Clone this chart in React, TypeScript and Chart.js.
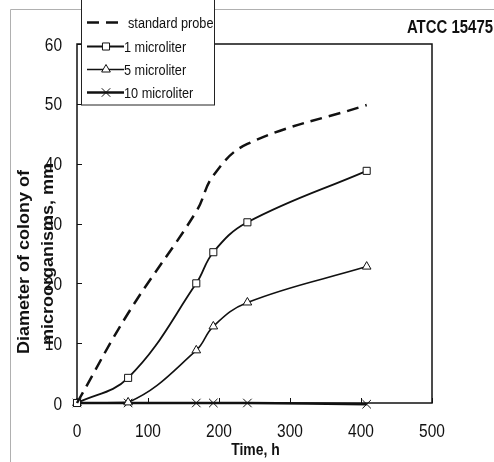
import React, { useEffect, useRef } from "react";
import { Chart, registerables } from "chart.js";

Chart.register(...registerables);

const times = [0, 72, 168, 192, 240, 408];
const standardProbe = [0, 15, 32, 38, 43.3, 49.8];
const oneMicroliter = [0, 4.2, 20, 25.2, 30.2, 38.8];
const fiveMicroliter = [0, 0.1, 8.8, 12.8, 16.8, 22.8];
const tenMicroliter = [0, 0, 0, 0, 0, -0.2];
const seriesLabels = ["standard probe", "1 microliter", "5 microliter", "10 microliter"];
const xRange = [0, 500, 100];
const yRange = [0, 60, 10];
const chartTitle = "ATCC 15475";
const xTitle = "Time, h";
const yTitle = ["Diameter of colony of", "microorganisms, mm"];

const FONT = "'Liberation Sans', Arial, sans-serif";

function drawText(ctx: CanvasRenderingContext2D, text: string, x: number, y: number, font: string, align: CanvasTextAlign, sx: number) {
  ctx.save();
  ctx.translate(x, y);
  ctx.scale(sx, 1);
  ctx.font = font;
  ctx.textAlign = align;
  ctx.textBaseline = "alphabetic";
  ctx.fillStyle = "#111";
  ctx.fillText(text, 0, 0);
  ctx.restore();
}

function marker(ctx: CanvasRenderingContext2D, style: string, x: number, y: number, r: number) {
  ctx.save();
  ctx.strokeStyle = "#111";
  ctx.fillStyle = "#fff";
  ctx.lineWidth = 1;
  ctx.setLineDash([]);
  ctx.beginPath();
  if (style === "rect") {
    const s = r * Math.SQRT1_2;
    ctx.rect(x - s, y - s, 2 * s, 2 * s);
    ctx.fill();
    ctx.stroke();
  } else if (style === "triangle") {
    ctx.moveTo(x, y - r);
    ctx.lineTo(x + r * 0.866, y + r * 0.5);
    ctx.lineTo(x - r * 0.866, y + r * 0.5);
    ctx.closePath();
    ctx.fill();
    ctx.stroke();
  } else if (style === "crossRot") {
    const s = r * Math.SQRT1_2;
    ctx.moveTo(x - s, y - s);
    ctx.lineTo(x + s, y + s);
    ctx.moveTo(x + s, y - s);
    ctx.lineTo(x - s, y + s);
    ctx.stroke();
  }
  ctx.restore();
}

const framePlugin = {
  id: "frame",
  beforeDatasetsDraw(chart: any) {
    const ctx = chart.ctx as CanvasRenderingContext2D;
    const { left, right, top, bottom } = chart.chartArea;
    ctx.save();
    ctx.strokeStyle = "#b0b0b0";
    ctx.lineWidth = 1;
    ctx.beginPath();
    ctx.moveTo(10.5, 462);
    ctx.lineTo(10.5, 9.5);
    ctx.lineTo(494, 9.5);
    ctx.stroke();
    ctx.strokeStyle = "#111";
    ctx.lineWidth = 1.5;
    ctx.strokeRect(left, top, right - left, bottom - top);
    ctx.lineWidth = 1;
    const xs = chart.scales.x;
    const ys = chart.scales.y;
    xs.ticks.forEach((t: any) => {
      const px = Math.round(xs.getPixelForValue(t.value)) + 0.5;
      ctx.beginPath();
      ctx.moveTo(px, bottom);
      ctx.lineTo(px, bottom - 5);
      ctx.stroke();
    });
    ys.ticks.forEach((t: any) => {
      const py = Math.round(ys.getPixelForValue(t.value)) + 0.5;
      ctx.beginPath();
      ctx.moveTo(left, py);
      ctx.lineTo(left + 5, py);
      ctx.stroke();
    });
    xs.ticks.forEach((t: any) => {
      drawText(ctx, String(t.value), xs.getPixelForValue(t.value), bottom + 34, `18px ${FONT}`, "center", 0.86);
    });
    ys.ticks.forEach((t: any) => {
      drawText(ctx, String(t.value), left - 15, ys.getPixelForValue(t.value) + 6.5, `18px ${FONT}`, "right", 0.86);
    });
    drawText(ctx, xTitle, (left + right) / 2 + 1, 455, `bold 17px ${FONT}`, "center", 0.82);
    const ycenters = [262, 254];
    const ybase = [28.5, 52.5];
    yTitle.forEach((line, i) => {
      ctx.save();
      ctx.translate(ybase[i], ycenters[i]);
      ctx.rotate(-Math.PI / 2);
      ctx.scale(1, 0.9);
      ctx.font = `bold 18px ${FONT}`;
      ctx.textAlign = "center";
      ctx.textBaseline = "alphabetic";
      ctx.fillStyle = "#111";
      ctx.fillText(line, 0, 0);
      ctx.restore();
    });
    drawText(ctx, chartTitle, 493, 33, `bold 18px ${FONT}`, "right", 0.83);
    ctx.restore();
  },
  afterDraw(chart: any) {
    const ctx = chart.ctx as CanvasRenderingContext2D;
    ctx.save();
    ctx.fillStyle = "#fff";
    ctx.fillRect(81.5, -1, 133, 106);
    ctx.strokeStyle = "#222";
    ctx.lineWidth = 1;
    ctx.strokeRect(81.5, -1, 133, 106);
    const rows = [22.5, 46.5, 69.5, 92.5];
    chart.data.datasets.forEach((ds: any, i: number) => {
      const y = rows[i];
      ctx.save();
      ctx.strokeStyle = "#111";
      ctx.lineWidth = ds.borderWidth;
      ctx.setLineDash(ds.borderDash || []);
      ctx.beginPath();
      ctx.moveTo(87, y);
      ctx.lineTo(124, y);
      ctx.stroke();
      ctx.restore();
      if (ds.pointRadius > 0) marker(ctx, ds.pointStyle, 106, y, ds.pointRadius);
      drawText(ctx, ds.label, i === 0 ? 128 : 124, y + 5.5, `15.5px ${FONT}`, "left", 0.82);
    });
    ctx.restore();
  },
};

function makeData(values: number[]) {
  return times.map((t, i) => ({ x: t, y: values[i] }));
}

export default function App() {
  const ref = useRef<HTMLCanvasElement>(null);
  useEffect(() => {
    if (!ref.current) return;
    const common = {
      borderColor: "#111",
      pointBorderColor: "#111",
      pointBackgroundColor: "#fff",
      pointBorderWidth: 1,
      tension: 0.4,
      clip: false as any,
      fill: false,
    };
    const chart = new Chart(ref.current, {
      type: "line",
      data: {
        datasets: [
          { ...common, label: seriesLabels[0], data: makeData(standardProbe), borderWidth: 2.5, borderDash: [12, 7], pointRadius: 0, pointStyle: "circle" },
          { ...common, label: seriesLabels[1], data: makeData(oneMicroliter), borderWidth: 1.8, pointRadius: 5, pointStyle: "rect" },
          { ...common, label: seriesLabels[2], data: makeData(fiveMicroliter), borderWidth: 1.6, pointRadius: 5, pointStyle: "triangle" },
          { ...common, label: seriesLabels[3], data: makeData(tenMicroliter), borderWidth: 2.4, pointRadius: 6, pointStyle: "crossRot" },
        ] as any,
      },
      plugins: [framePlugin],
      options: {
        animation: false,
        responsive: false,
        devicePixelRatio: 1,
        layout: { padding: { left: 0, top: 44, right: 62, bottom: 0 } },
        plugins: { legend: { display: false }, tooltip: { enabled: false }, title: { display: false } },
        scales: {
          x: {
            type: "linear",
            min: xRange[0],
            max: xRange[1],
            ticks: { stepSize: xRange[2], display: false },
            grid: { display: false },
            border: { display: false },
            afterFit: (s: any) => { s.height = 59; },
          },
          y: {
            type: "linear",
            min: yRange[0],
            max: yRange[1],
            ticks: { stepSize: yRange[2], display: false },
            grid: { display: false },
            border: { display: false },
            afterFit: (s: any) => { s.width = 77; },
          },
        },
      } as any,
    });
    return () => chart.destroy();
  }, []);
  return (
    <div style={{ position: "fixed", left: 0, top: 0, width: 494, height: 462, background: "#fff" }}>
      <canvas ref={ref} width={494} height={462} style={{ width: 494, height: 462, display: "block" }} />
    </div>
  );
}
